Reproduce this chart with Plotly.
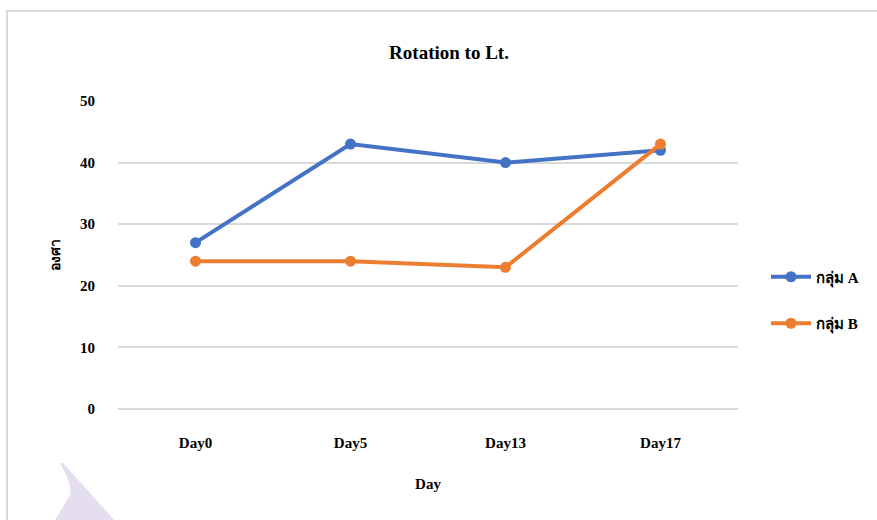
import plotly.graph_objects as go

# Measurements: rotation to the left (degrees) per group and day
days = ["Day0", "Day5", "Day13", "Day17"]
group_a = [27, 43, 40, 42]
group_b = [24, 24, 23, 43]
series_names = ["กลุ่ม A", "กลุ่ม B"]
y_ticks = [0, 10, 20, 30, 40, 50]

BLUE = "#4472C4"
ORANGE = "#ED7D31"
GRID = "#d9d9d9"
SERIF = "Times New Roman, Liberation Serif, serif"

W, H = 877, 520
L, R, T, B = 118, 139, 101, 111
PW, PH = W - L - R, H - T - B


def px(x):
    return (x - L) / PW


def py(y):
    return (H - B - y) / PH


fig = go.Figure()
for name, vals, col, grp in [(series_names[0], group_a, BLUE, "a"),
                             (series_names[1], group_b, ORANGE, "b")]:
    fig.add_trace(go.Scatter(
        x=days, y=vals, name=f"<b>{name}</b>", mode="lines+markers",
        legendgroup=grp,
        line=dict(color=col, width=4),
        marker=dict(color=col, size=11),
    ))

shapes = [
    # chart frame
    dict(type="rect", xref="paper", yref="paper",
         x0=px(7), x1=px(W + 20), y0=py(H + 20), y1=py(11),
         line=dict(color=GRID, width=2), fillcolor="rgba(0,0,0,0)", layer="below"),
    # decorative corner mark
    dict(type="path", xref="paper", yref="paper", layer="below",
         path=(f"M {px(60)},{py(463)} L {px(63)},{py(463)} L {px(116)},{py(522)} "
               f"L {px(54)},{py(522)} L {px(70)},{py(495)} "
               f"Q {px(73)},{py(486)} {px(60)},{py(463)} Z"),
         fillcolor="#e5deee", line=dict(width=0)),
]

fig.update_layout(
    width=W, height=H,
    margin=dict(l=L, r=R, t=T, b=B, autoexpand=False),
    paper_bgcolor="white", plot_bgcolor="white",
    title=dict(text="<b>Rotation to Lt.</b>", xref="container", x=449 / W,
               xanchor="center", yref="container", y=1 - 52 / H, yanchor="middle",
               font=dict(family=SERIF, size=19, color="#000")),
    xaxis=dict(
        type="category", range=[-0.5, 3.5], showgrid=False, showline=False,
        zeroline=False, ticks="", ticklabelstandoff=23,
        tickfont=dict(family=SERIF, size=15, color="#000"),
        tickvals=days, ticktext=[f"<b>{d}</b>" for d in days],
        title=dict(text="<b>Day</b>", standoff=28,
                   font=dict(family=SERIF, size=15, color="#000")),
    ),
    yaxis=dict(
        range=[0, 50], tickvals=y_ticks, ticktext=[f"<b>{v}</b>" for v in y_ticks],
        showgrid=True, gridcolor=GRID, gridwidth=1.5,
        zeroline=True, zerolinecolor=GRID, zerolinewidth=1.5,
        showline=False, ticks="", ticklabelstandoff=22,
        tickfont=dict(family=SERIF, size=15, color="#000"),
        title=dict(text="<b>องศา</b>", standoff=16,
                   font=dict(family=SERIF, size=14, color="#000")),
    ),
    legend=dict(x=px(766), xanchor="left", y=py(300), yanchor="middle",
                traceorder="grouped", tracegroupgap=24,
                font=dict(family=SERIF, size=15, color="#000"),
                bgcolor="rgba(0,0,0,0)", itemwidth=40),
    shapes=shapes,
    showlegend=True,
)

fig.write_html("out.html")
